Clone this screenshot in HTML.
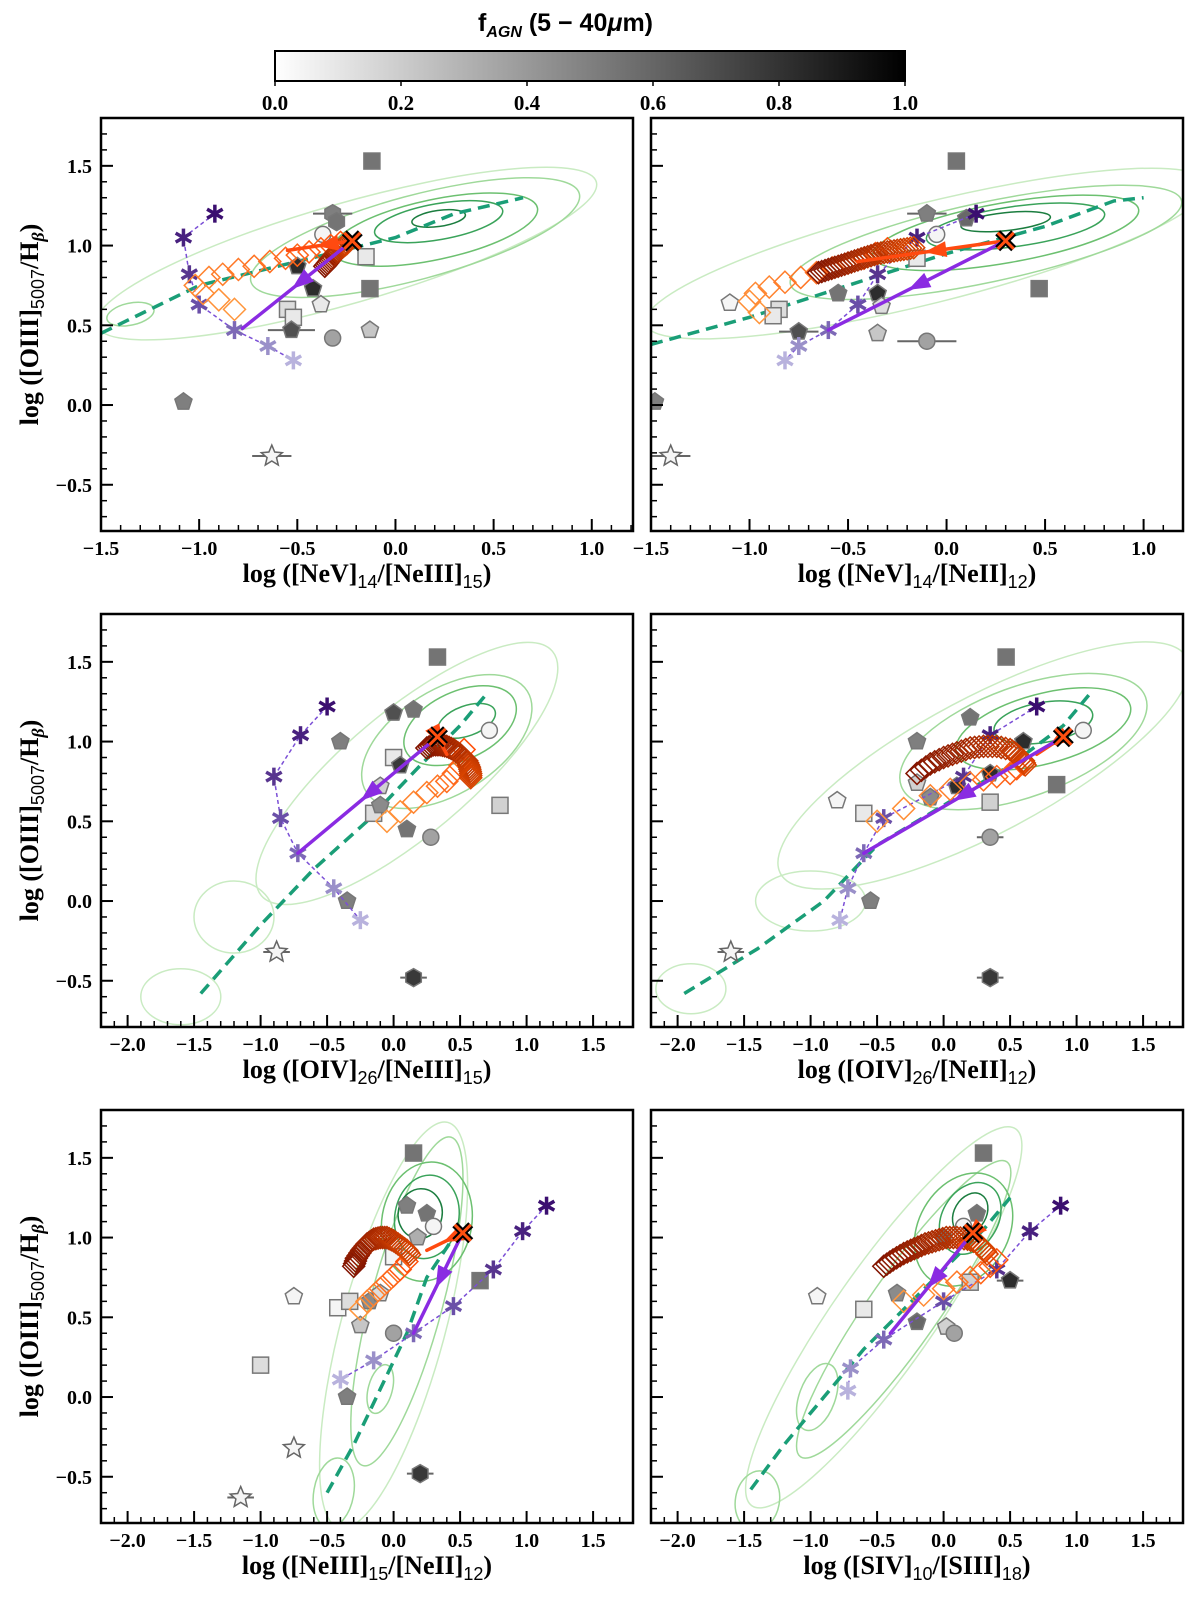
<!DOCTYPE html>
<html><head><meta charset="utf-8">
<style>
html,body{margin:0;padding:0;background:#fff;}
svg{display:block;font-family:"Liberation Serif",serif;}
</style></head>
<body>
<svg id="fig" width="1200" height="1599" viewBox="0 0 1200 1599" xmlns="http://www.w3.org/2000/svg">
<defs>
<linearGradient id="cbg" x1="0" x2="1" y1="0" y2="0"><stop offset="0" stop-color="#fff"/><stop offset="1" stop-color="#000"/></linearGradient>
</defs>
<g>
<text x="478" y="31" font-size="25" font-weight="bold" font-family="Liberation Sans, sans-serif">f<tspan font-size="16" font-style="italic" dy="6">AGN</tspan><tspan dy="-6"> (5 − 40</tspan><tspan font-style="italic">μ</tspan><tspan>m)</tspan></text>
<rect x="275" y="51" width="630" height="30" fill="url(#cbg)" stroke="#000" stroke-width="2"/>
</g>
<g id="cbticks"></g>
<g id="plots"></g>
</svg>
<script>
// ---------- data ----------
const cbTicks = [0.0, 0.2, 0.4, 0.6, 0.8, 1.0];

// Panel 1: NeV/NeIII
const p1LineX = [-1.5,-1.0,-0.5,0.0,0.3,0.65];
const p1LineY = [0.45,0.75,0.9,1.05,1.2,1.3];
const p1StarX = [-0.92,-1.08,-1.05,-1.0,-0.82,-0.65,-0.52];
const p1StarY = [1.2,1.05,0.82,0.63,0.47,0.37,0.28];
const p1DiaX = [-0.82,-0.9,-0.98,-1.02,-0.95,-0.88,-0.8,-0.72,-0.64,-0.56,-0.5,-0.44,-0.38,-0.33,-0.28];
const p1DiaY = [0.6,0.66,0.7,0.75,0.8,0.82,0.85,0.87,0.9,0.92,0.94,0.96,0.98,1.0,1.02];
const p1DkX = [-0.36,-0.34,-0.32,-0.3,-0.28,-0.26,-0.24];
const p1DkY = [0.87,0.9,0.93,0.96,0.98,1.0,1.02];
const p1X = [-0.22,1.03];
const p1Purple = [-0.78,0.48];
const p1Orange = [-0.55,0.97];
const p1Mk = [['s',-0.12,1.53,0.55,0],['s',-0.15,0.93,0.05,0],['s',-0.13,0.73,0.55,0],['s',-0.55,0.6,0.1,0],['s',-0.52,0.55,0.05,0],
 ['p',-1.08,0.02,0.5,0],['p',-0.42,0.73,0.85,0],['p',-0.53,0.47,0.7,0.12],['p',-0.38,0.63,0.05,0],['p',-0.13,0.47,0.2,0],['p',-0.5,0.87,0.85,0],
 ['c',-0.37,1.07,0.0,0],['c',-0.32,0.42,0.35,0],['h',-0.32,1.2,0.5,0.1],['h',-0.3,1.15,0.55,0],['st',-0.63,-0.32,0.0,0.1]];
// contours: [cx, cy (data), semi-major px, semi-minor px, angle deg, level]
const p1Cont = [[-0.25,0.95,260,50,-16,0],[0.1,1.05,170,42,-15,1],[0.2,1.1,105,30,-12,2],[0.22,1.15,65,18,-10,3],[0.22,1.17,27,8,-8,4],[-1.35,0.57,24,11,-12,1]];

// Panel 2: NeV/NeII
const p2LineX = [-1.5,-1.0,-0.5,0.0,0.5,0.85,1.0];
const p2LineY = [0.38,0.55,0.75,0.95,1.12,1.28,1.3];
const p2StarX = [0.15,-0.15,-0.35,-0.45,-0.6,-0.75,-0.82];
const p2StarY = [1.2,1.05,0.82,0.63,0.47,0.37,0.28];
const p2DiaX = [-0.95,-1.0,-0.97,-0.9,-0.82,-0.74,-0.66,-0.58,-0.5,-0.42,-0.36,-0.3];
const p2DiaY = [0.58,0.65,0.7,0.74,0.77,0.8,0.83,0.86,0.89,0.92,0.95,0.98];
const p2DkX = [-0.65,-0.6,-0.55,-0.5,-0.45,-0.4,-0.35,-0.3,-0.25,-0.2,-0.15];
const p2DkY = [0.83,0.85,0.87,0.89,0.91,0.93,0.95,0.96,0.97,0.98,0.99];
const p2X = [0.3,1.03];
const p2Purple = [-0.6,0.47];
const p2Orange = [-0.45,0.9];
const p2Mk = [['s',0.05,1.53,0.55,0],['s',0.47,0.73,0.55,0],['s',-0.15,0.92,0.05,0],['s',-0.85,0.6,0.1,0],['s',-0.88,0.56,0.05,0],
 ['p',-1.48,0.02,0.5,0],['p',-0.1,1.2,0.5,0.1],['p',0.1,1.17,0.6,0],['p',-1.1,0.64,0.0,0],['p',-0.75,0.46,0.7,0.1],['p',-0.35,0.45,0.2,0],['p',-0.55,0.7,0.55,0],['p',-0.35,0.7,0.85,0],['p',-0.33,0.62,0.1,0],
 ['c',-0.1,0.4,0.35,0.15],['c',-0.05,1.07,0.0,0],['st',-1.4,-0.32,0.0,0.1]];
const p2Cont = [[-0.1,0.95,290,50,-14,0],[0.2,1.02,200,40,-12,1],[0.3,1.08,135,30,-10,2],[0.35,1.12,90,20,-8,3],[0.3,1.15,45,9,-6,4]];

// Panel 3: OIV/NeIII
const p3LineX = [-1.45,-1.0,-0.6,-0.2,0.2,0.5,0.7];
const p3LineY = [-0.58,-0.15,0.2,0.5,0.85,1.1,1.3];
const p3StarX = [-0.5,-0.7,-0.9,-0.85,-0.72,-0.45,-0.25];
const p3StarY = [1.22,1.04,0.78,0.52,0.3,0.08,-0.12];
const p3DiaX = [-0.05,0.05,0.15,0.25,0.33,0.4,0.45,0.5,0.52,0.53];
const p3DiaY = [0.5,0.56,0.62,0.68,0.72,0.75,0.8,0.85,0.9,0.95];
const p3DkX = [0.25,0.3,0.35,0.4,0.45,0.5,0.55,0.57,0.58,0.58];
const p3DkY = [0.96,0.98,0.98,0.97,0.95,0.92,0.88,0.84,0.8,0.76];
const p3X = [0.33,1.03];
const p3Purple = [-0.72,0.3];
const p3Orange = [0.4,0.92];
const p3Mk = [['s',0.33,1.53,0.55,0],['s',0.8,0.6,0.15,0],['s',-0.15,0.55,0.1,0],['s',0.0,0.9,0.05,0],
 ['p',-0.4,1.0,0.5,0],['p',0.0,1.18,0.7,0],['p',0.15,1.2,0.55,0],['p',-0.35,0.0,0.5,0],['p',-0.1,0.72,0.15,0],['p',0.1,0.45,0.55,0],['p',-0.1,0.6,0.45,0],['p',0.05,0.85,0.8,0],
 ['c',0.28,0.4,0.35,0],['c',0.72,1.07,0.0,0],['h',0.15,-0.48,0.8,0.1],['st',-0.88,-0.32,0.0,0.1]];
const p3Cont = [[0.1,0.8,190,62,-40,0],[-1.2,-0.1,40,36,0,0],[-1.6,-0.6,40,28,0,0],[0.4,1.0,95,52,-32,1],[0.5,1.1,60,34,-25,2],[0.55,1.13,30,15,-20,3]];

// Panel 4: OIV/NeII
const p4LineX = [-1.95,-1.4,-0.9,-0.5,0.0,0.5,0.9,1.1];
const p4LineY = [-0.58,-0.3,0.0,0.35,0.6,0.85,1.1,1.3];
const p4StarX = [0.7,0.35,0.15,-0.45,-0.6,-0.72,-0.78];
const p4StarY = [1.22,1.04,0.78,0.52,0.3,0.08,-0.12];
const p4DiaX = [-0.5,-0.3,-0.1,0.05,0.2,0.3,0.4,0.5,0.55,0.6];
const p4DiaY = [0.5,0.58,0.66,0.7,0.74,0.76,0.78,0.8,0.83,0.86];
const p4DkX = [-0.2,-0.1,0.0,0.1,0.2,0.3,0.4,0.5,0.55,0.6,0.62];
const p4DkY = [0.8,0.86,0.9,0.93,0.96,0.97,0.97,0.95,0.92,0.88,0.84];
const p4X = [0.9,1.03];
const p4Purple = [-0.6,0.3];
const p4Orange = [0.7,0.92];
const p4Mk = [['s',0.47,1.53,0.55,0],['s',0.85,0.73,0.55,0],['s',-0.6,0.55,0.05,0],['s',0.35,0.62,0.15,0],
 ['p',-0.2,1.0,0.5,0],['p',-0.8,0.63,0.0,0],['p',0.2,1.15,0.55,0],['p',-0.55,0.0,0.5,0],['p',0.1,0.72,0.85,0],['p',-0.1,0.65,0.45,0],['p',-0.2,0.74,0.15,0],['p',0.6,1.0,0.85,0],['p',0.35,0.8,0.85,0],
 ['c',0.35,0.4,0.35,0.1],['c',1.05,1.07,0.0,0],['h',0.35,-0.48,0.8,0.1],['st',-1.6,-0.32,0.0,0.1]];
const p4Cont = [[0.3,0.85,230,68,-28,0],[-1.0,0.0,55,30,0,0],[-1.9,-0.55,35,25,0,0],[0.6,1.0,130,55,-20,1],[0.75,1.08,90,35,-15,2],[0.75,1.12,50,20,-10,3]];

// Panel 5: NeIII/NeII
const p5LineX = [-0.5,-0.3,-0.1,0.1,0.25,0.45,0.5];
const p5LineY = [-0.6,-0.3,0.05,0.4,0.75,1.0,1.1];
const p5StarX = [1.15,0.97,0.75,0.45,0.15,-0.15,-0.4];
const p5StarY = [1.2,1.04,0.8,0.57,0.4,0.23,0.11];
const p5DiaX = [-0.25,-0.2,-0.15,-0.1,-0.05,0.0,0.05,0.1];
const p5DiaY = [0.55,0.6,0.64,0.68,0.72,0.76,0.8,0.85];
const p5DkX = [-0.3,-0.28,-0.24,-0.2,-0.15,-0.1,-0.05,0.0,0.05,0.1,0.13];
const p5DkY = [0.82,0.87,0.92,0.96,0.99,1.0,1.0,0.98,0.95,0.92,0.88];
const p5X = [0.52,1.03];
const p5Purple = [0.15,0.4];
const p5Orange = [0.25,0.92];
const p5Mk = [['s',0.15,1.53,0.55,0],['s',0.65,0.73,0.55,0],['s',-1.0,0.2,0.1,0],['s',-0.42,0.56,0.0,0],['s',-0.33,0.6,0.1,0],['s',0.0,0.88,0.0,0],
 ['p',-0.75,0.63,0.0,0],['p',-0.25,0.45,0.2,0],['p',-0.35,0.0,0.5,0],['p',0.25,1.15,0.55,0],['p',0.1,1.2,0.5,0],['p',-0.18,0.6,0.45,0],['p',-0.1,0.65,0.1,0],['p',0.18,1.0,0.3,0],
 ['c',0.0,0.4,0.35,0.05],['c',0.3,1.07,0.0,0],['h',0.2,-0.48,0.8,0.1],['st',-0.75,-0.32,0.0,0],['st',-1.15,-0.63,0.0,0.1]];
const p5Cont = [[0.0,0.45,210,52,-75,0],[0.1,0.6,170,36,-75,1],[-0.1,0.05,25,12,-75,1],[-0.45,-0.6,35,20,-80,1],[0.25,1.1,60,45,-80,2],[0.25,1.13,42,32,-80,3],[0.2,1.15,25,22,-80,4]];

// Panel 6: SIV/SIII
const p6LineX = [-1.45,-1.2,-0.9,-0.6,-0.3,0.0,0.3,0.5];
const p6LineY = [-0.58,-0.3,0.0,0.3,0.55,0.8,1.05,1.25];
const p6StarX = [0.88,0.65,0.4,0.0,-0.45,-0.7,-0.72];
const p6StarY = [1.2,1.04,0.8,0.6,0.36,0.18,0.04];
const p6DiaX = [-0.3,-0.15,0.0,0.1,0.2,0.28,0.35,0.4];
const p6DiaY = [0.6,0.64,0.68,0.72,0.75,0.78,0.82,0.86];
const p6DkX = [-0.45,-0.38,-0.3,-0.22,-0.14,-0.06,0.02,0.1,0.18,0.25,0.3,0.34];
const p6DkY = [0.82,0.86,0.9,0.93,0.96,0.98,1.0,1.0,0.99,0.97,0.93,0.88];
const p6X = [0.22,1.03];
const p6Purple = [-0.4,0.4];
const p6Orange = [0.12,0.95];
const p6Mk = [['s',0.3,1.53,0.55,0],['s',-0.6,0.55,0.05,0],['s',0.2,0.72,0.15,0],
 ['p',-0.95,0.63,0.0,0],['p',-0.2,0.47,0.6,0],['p',0.5,0.73,0.85,0.1],['p',0.0,1.0,0.55,0],['p',0.25,1.15,0.55,0],['p',-0.35,0.65,0.45,0],['p',0.02,0.44,0.15,0],
 ['c',0.08,0.4,0.35,0],['c',0.15,1.07,0.0,0]];
const p6Cont = [[-0.45,0.5,230,50,-55,0],[-0.3,0.55,180,35,-55,1],[-0.95,0.0,35,18,-70,1],[-1.4,-0.65,30,22,-80,1],[0.15,1.05,60,45,-60,2],[0.2,1.12,38,28,-60,3],[0.2,1.15,22,16,-60,4]];

// ---------- rendering ----------
const NS = 'http://www.w3.org/2000/svg';
function mk(tag, attrs, parent){const e=document.createElementNS(NS,tag);for(const k in attrs)e.setAttribute(k,attrs[k]);if(parent)parent.appendChild(e);return e;}

const cbG = document.getElementById('cbticks');
cbTicks.forEach(v=>{
  const x = 275 + v*630;
  const t = mk('text',{x:x,y:110,'text-anchor':'middle','font-size':21,'font-weight':'bold'},cbG);
  t.textContent = v.toFixed(1);
  
  
  mk('line',{x1:x,x2:x,y1:81,y2:86,stroke:'#000','stroke-width':1.5},cbG);
});

const contColors = ['#c9ebc2','#9fd99a','#6cc070','#3aa35a','#1b7d3f'];
const starColors = ['#3b0f70','#48217f','#58358f','#6a4fa8','#7d69b6','#9a90c9','#b8b2dd'];
function grey(f){const v=Math.round(255*(1-f)*0.92+10);return `rgb(${v},${v},${v})`;}

const panels = [
 {name:'nev-neiii',px:[101,633],py:[118,531],xr:[-1.5,1.21],xt:[-1.5,-1.0,-0.5,0.0,0.5,1.0],xl:['log ([NeV]','14','/[NeIII]','15',')'],line:[p1LineX,p1LineY],star:[p1StarX,p1StarY],dia:[p1DiaX,p1DiaY],dk:[p1DkX,p1DkY],X:p1X,pu:p1Purple,or:p1Orange,mk:p1Mk,ct:p1Cont,ylab:true},
 {name:'nev-neii',px:[651,1183],py:[118,531],xr:[-1.5,1.2],xt:[-1.5,-1.0,-0.5,0.0,0.5,1.0],xl:['log ([NeV]','14','/[NeII]','12',')'],line:[p2LineX,p2LineY],star:[p2StarX,p2StarY],dia:[p2DiaX,p2DiaY],dk:[p2DkX,p2DkY],X:p2X,pu:p2Purple,or:p2Orange,mk:p2Mk,ct:p2Cont,ylab:false},
 {name:'oiv-neiii',px:[101,633],py:[614,1027],xr:[-2.2,1.8],xt:[-2.0,-1.5,-1.0,-0.5,0.0,0.5,1.0,1.5],xl:['log ([OIV]','26','/[NeIII]','15',')'],line:[p3LineX,p3LineY],star:[p3StarX,p3StarY],dia:[p3DiaX,p3DiaY],dk:[p3DkX,p3DkY],X:p3X,pu:p3Purple,or:p3Orange,mk:p3Mk,ct:p3Cont,ylab:true},
 {name:'oiv-neii',px:[651,1183],py:[614,1027],xr:[-2.2,1.8],xt:[-2.0,-1.5,-1.0,-0.5,0.0,0.5,1.0,1.5],xl:['log ([OIV]','26','/[NeII]','12',')'],line:[p4LineX,p4LineY],star:[p4StarX,p4StarY],dia:[p4DiaX,p4DiaY],dk:[p4DkX,p4DkY],X:p4X,pu:p4Purple,or:p4Orange,mk:p4Mk,ct:p4Cont,ylab:false},
 {name:'neiii-neii',px:[101,633],py:[1110,1523],xr:[-2.2,1.8],xt:[-2.0,-1.5,-1.0,-0.5,0.0,0.5,1.0,1.5],xl:['log ([NeIII]','15','/[NeII]','12',')'],line:[p5LineX,p5LineY],star:[p5StarX,p5StarY],dia:[p5DiaX,p5DiaY],dk:[p5DkX,p5DkY],X:p5X,pu:p5Purple,or:p5Orange,mk:p5Mk,ct:p5Cont,ylab:true},
 {name:'siv-siii',px:[651,1183],py:[1110,1523],xr:[-2.2,1.8],xt:[-2.0,-1.5,-1.0,-0.5,0.0,0.5,1.0,1.5],xl:['log ([SIV]','10','/[SIII]','18',')'],line:[p6LineX,p6LineY],star:[p6StarX,p6StarY],dia:[p6DiaX,p6DiaY],dk:[p6DkX,p6DkY],X:p6X,pu:p6Purple,or:p6Orange,mk:p6Mk,ct:p6Cont,ylab:false}
];
const yr=[-0.79,1.80], yTicks=[-0.5,0.0,0.5,1.0,1.5];
const root=document.getElementById('plots');

function arrow(g,sx,ex,color,w,name){
  const [x1,y1]=sx,[x2,y2]=ex;
  const ang=Math.atan2(y2-y1,x2-x1);
  const mx=x1+(x2-x1)*0.55, my=y1+(y2-y1)*0.55;
  const l=mk('line',{x1,y1,x2,y2,stroke:color,'stroke-width':w,'stroke-linecap':'round'},g);
  
  
  const L=22,W=8;
  const bx=mx-L*Math.cos(ang), by=my-L*Math.sin(ang);
  const p=mk('polygon',{points:`${mx},${my} ${bx+W*Math.sin(ang)},${by-W*Math.cos(ang)} ${bx-W*Math.sin(ang)},${by+W*Math.cos(ang)}`,fill:color},g);
  
  
}
function polyPts(cx,cy,r,n,rot,inner){
  const pts=[];for(let i=0;i<n*(inner?2:1);i++){const rr=inner?(i%2?r*inner:r):r;const a=rot+i*Math.PI*2/(n*(inner?2:1));pts.push((cx+rr*Math.sin(a)).toFixed(1)+','+(cy-rr*Math.cos(a)).toFixed(1));}return pts.join(' ');
}

panels.forEach((P,pi)=>{
  const g=mk('g',{},root);
  
  
  const sx=v=>P.px[0]+(v-P.xr[0])/(P.xr[1]-P.xr[0])*(P.px[1]-P.px[0]);
  const sy=v=>P.py[1]-(v-yr[0])/(yr[1]-yr[0])*(P.py[1]-P.py[0]);
  const clipId='clip'+pi;
  const cp=mk('clipPath',{id:clipId},g);
  mk('rect',{x:P.px[0],y:P.py[0],width:P.px[1]-P.px[0],height:P.py[1]-P.py[0]},cp);
  const d=mk('g',{'clip-path':`url(#${clipId})`},g);
  P.ct.forEach(c=>{
    const cx=sx(c[0]), cy=sy(c[1]);
    const e=mk('ellipse',{cx,cy,rx:c[2],ry:c[3],transform:`rotate(${c[4]} ${cx} ${cy})`,fill:'none',stroke:contColors[c[5]],'stroke-width':1.5},d);
    
    
  });
  const lp=P.line[0].map((x,i)=>sx(x)+','+sy(P.line[1][i])).join(' ');
  const pl=mk('polyline',{points:lp,fill:'none',stroke:'#1a9e77','stroke-width':3.5,'stroke-dasharray':'12 7'},d);
  
  
  P.mk.forEach(m=>{
    const [t,x,y,f,err]=m; const cx=sx(x), cy=sy(y); const fill=grey(f);
    if(err){const el=mk('line',{x1:sx(x-err),x2:sx(x+err),y1:cy,y2:cy,stroke:'#666','stroke-width':2},d);
      
      }
    let e;
    if(t==='s') e=mk('rect',{x:cx-8,y:cy-8,width:16,height:16,fill,stroke:'#777','stroke-width':1.5},d);
    else if(t==='p') e=mk('polygon',{points:polyPts(cx,cy,9,5,0),fill,stroke:'#777','stroke-width':1.5},d);
    else if(t==='c') e=mk('circle',{cx,cy,r:8,fill,stroke:'#777','stroke-width':1.5},d);
    else if(t==='h') e=mk('polygon',{points:polyPts(cx,cy,9,6,0),fill,stroke:'#777','stroke-width':1.5},d);
    else e=mk('polygon',{points:polyPts(cx,cy,11,5,0,0.45),fill,stroke:'#666','stroke-width':1.5},d);
    
    
  });
  const sp=P.star[0].map((x,i)=>sx(x)+','+sy(P.star[1][i])).join(' ');
  const st=mk('polyline',{points:sp,fill:'none',stroke:'#7b4fd6','stroke-width':1.5,'stroke-dasharray':'4 3'},d);
  
  
  P.star[0].forEach((x,i)=>{
    const cx=sx(x), cy=sy(P.star[1][i]);
    const s=mk('g',{stroke:starColors[i],'stroke-width':3.5},d);
    
    
    for(let a=0;a<3;a++){const an=a*Math.PI/3;mk('line',{x1:cx-9*Math.sin(an),y1:cy-9*Math.cos(an),x2:cx+9*Math.sin(an),y2:cy+9*Math.cos(an)},s);}
  });
  const nd=P.dia[0].length;
  P.dia[0].forEach((x,i)=>{
    const cx=sx(x), cy=sy(P.dia[1][i]); const t=i/Math.max(1,nd-1);
    const col=`rgb(255,${Math.round(150-70*t)},${Math.round(60-50*t)})`;
    const e=mk('polygon',{points:`${cx},${cy-11} ${cx+11},${cy} ${cx},${cy+11} ${cx-11},${cy}`,fill:'none',stroke:col,'stroke-width':1.5},d);
    
    
  });
  const nk=P.dk[0].length;
  for(let i=0;i<nk-1;i++){for(let s=0;s<3;s++){
    const t=(i+s/3)/(nk-1);
    const x=P.dk[0][i]+(P.dk[0][i+1]-P.dk[0][i])*s/3, y=P.dk[1][i]+(P.dk[1][i+1]-P.dk[1][i])*s/3;
    const cx=sx(x), cy=sy(y);
    const col=`rgb(${Math.round(130+90*t)},${Math.round(20+50*t)},0)`;
    const e=mk('polygon',{points:`${cx},${cy-11} ${cx+11},${cy} ${cx},${cy+11} ${cx-11},${cy}`,fill:'none',stroke:col,'stroke-width':1.5},d);
    
    
  }}
  arrow(d,[sx(P.X[0]),sy(P.X[1])],[sx(P.or[0]),sy(P.or[1])],'#ff4a10',3.5,'orange-arrow');
  arrow(d,[sx(P.X[0]),sy(P.X[1])],[sx(P.pu[0]),sy(P.pu[1])],'#8a2be2',3.5,'purple-arrow');
  const xg=mk('g',{},d);
  
  
  const xc=sx(P.X[0]), yc=sy(P.X[1]);
  [['#000',7],['#ff5010',3]].forEach(([c,w])=>{
    mk('line',{x1:xc-8,y1:yc-8,x2:xc+8,y2:yc+8,stroke:c,'stroke-width':w},xg);
    mk('line',{x1:xc-8,y1:yc+8,x2:xc+8,y2:yc-8,stroke:c,'stroke-width':w},xg);
  });
  const fr=mk('rect',{x:P.px[0],y:P.py[0],width:P.px[1]-P.px[0],height:P.py[1]-P.py[0],fill:'none',stroke:'#000','stroke-width':2.5},g);
  
  
  for(let v=Math.ceil(P.xr[0]*10);v<=Math.floor(P.xr[1]*10);v++){
    const x=sx(v/10); const major=(v%5===0);
    mk('line',{x1:x,x2:x,y1:P.py[1],y2:P.py[1]-(major?12:6),stroke:'#000','stroke-width':major?2:1.5},g);
  }
  P.xt.forEach(v=>{
    const t=mk('text',{x:sx(v),y:P.py[1]+24,'text-anchor':'middle','font-size':20,'font-weight':'bold'},g);
    t.textContent=(v<0?'\u2212':'')+Math.abs(v).toFixed(1);
    
    
  });
  for(let v=Math.ceil(yr[0]*10);v<=Math.floor(yr[1]*10);v++){
    const y=sy(v/10); const major=(v%5===0);
    mk('line',{x1:P.px[0],x2:P.px[0]+(major?12:6),y1:y,y2:y,stroke:'#000','stroke-width':major?2:1.5},g);
  }
  if(P.ylab){
    yTicks.forEach(v=>{
      const t=mk('text',{x:P.px[0]-9,y:sy(v)+7,'text-anchor':'end','font-size':20,'font-weight':'bold'},g);
      t.textContent=(v<0?'\u2212':'')+Math.abs(v).toFixed(1);
      
      
    });
  }
  const xl=mk('text',{x:(P.px[0]+P.px[1])/2,y:P.py[1]+51,'text-anchor':'middle','font-size':26,'font-weight':'bold'},g);
  
  
  const a=P.xl;
  xl.innerHTML=`${a[0]}<tspan font-family="Liberation Sans, sans-serif" font-weight="normal" font-size="18" dy="6">${a[1]}</tspan><tspan dy="-6">${a[2]}</tspan><tspan font-family="Liberation Sans, sans-serif" font-weight="normal" font-size="18" dy="6">${a[3]}</tspan><tspan dy="-6">${a[4]}</tspan>`;
  if(P.ylab){
    const cy=(P.py[0]+P.py[1])/2;
    const yl=mk('text',{x:0,y:0,transform:`translate(38 ${cy}) rotate(-90)`,'text-anchor':'middle','font-size':26,'font-weight':'bold'},g);
    
    
    yl.innerHTML=`log ([OIII]<tspan font-family="Liberation Sans, sans-serif" font-weight="normal" font-size="18" dy="6">5007</tspan><tspan dy="-6">/H</tspan><tspan font-style="italic" font-size="18" dy="6">β</tspan><tspan dy="-6">)</tspan>`;
  }
});
</script>
</body></html>
